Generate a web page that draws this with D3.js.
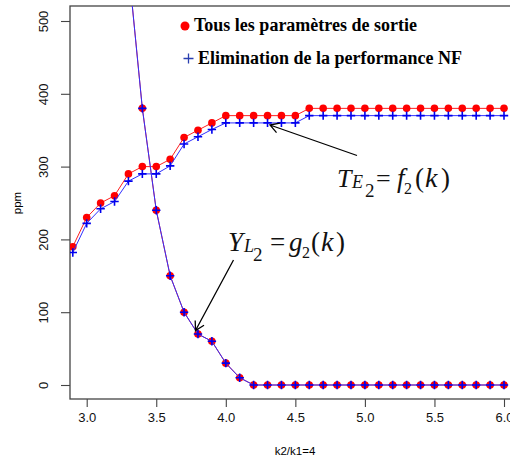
<!DOCTYPE html>
<html><head><meta charset="utf-8">
<script src="https://cdn.jsdelivr.net/npm/d3@7"></script>
<style>body{margin:0;background:#fff}svg{display:block}</style>
</head><body>
<script>
const kValues = [2.9,3.0,3.1,3.2,3.3,3.4,3.5,3.6,3.7,3.8,3.9,4.0,4.1,4.2,4.3,4.4,4.5,4.6,4.7,4.8,4.9,5.0,5.1,5.2,5.3,5.4,5.5,5.6,5.7,5.8,5.9,6.0];
const te2Tous = [190,230,250,260,290,300,300,310,340,350,360,370,370,370,370,370,370,380,380,380,380,380,380,380,380,380,380,380,380,380,380,380];
const te2Elim = [182,222,242,252,280,290,290,301,331,341,351,360,360,360,360,360,360,370,370,370,370,370,370,370,370,370,370,370,370,370,370,370];
const yl2Tous = [null,null,null,null,575,380,240,150,100,70,60,30,10,0,0,0,0,0,0,0,0,0,0,0,0,0,0,0,0,0,0,0];
const yl2Elim = [null,null,null,null,575,380,240,150,100,70,60,30,10,0,0,0,0,0,0,0,0,0,0,0,0,0,0,0,0,0,0,0];
const xTicks = [3.0,3.5,4.0,4.5,5.0,5.5,6.0];
const yTicks = [0,100,200,300,400,500];
const legendLabels = ["Tous les paramètres de sortie","Elimination de la performance NF"];

const W=510,H=463;
const box={l:70,t:6,b:399,r:516};
const x=d3.scaleLinear().domain([3,6]).range([86.7,504]);
const y=d3.scaleLinear().domain([0,500]).range([385,21]);
const svg=d3.select("body").append("svg").attr("width",W).attr("height",H);
svg.append("defs").append("clipPath").attr("id","clip").append("rect")
  .attr("x",box.l).attr("y",box.t).attr("width",box.r-box.l).attr("height",box.b-box.t);

const axisCol="#444";
svg.append("rect").attr("x",box.l).attr("y",box.t).attr("width",box.r-box.l).attr("height",box.b-box.t)
  .attr("fill","none").attr("stroke",axisCol).attr("stroke-width",1.3);

const xa=svg.append("g").attr("transform",`translate(0,${box.b})`)
  .call(d3.axisBottom(x).tickValues(xTicks).tickFormat(d3.format(".1f")).tickSize(8).tickPadding(6));
const ya=svg.append("g").attr("transform",`translate(${box.l},0)`)
  .call(d3.axisLeft(y).tickValues(yTicks).tickFormat(d3.format("d")).tickSize(9).tickPadding(4));
[xa,ya].forEach(g=>{g.select(".domain").remove();
  g.selectAll("line").attr("stroke",axisCol).attr("stroke-width",1.1);
  g.selectAll("text").attr("font-family","Liberation Sans, Arial, sans-serif").attr("font-size",13).attr("fill","#111");});
ya.selectAll(".tick text").attr("x",null).attr("dy",null).attr("text-anchor","middle")
   .attr("transform","translate(-22,0) rotate(-90)");

svg.append("text").attr("transform","translate(21,203) rotate(-90)").attr("text-anchor","middle")
  .attr("font-family","Liberation Sans, Arial, sans-serif").attr("font-size",11.5).text("ppm");
svg.append("text").attr("x",295).attr("y",455).attr("text-anchor","middle")
  .attr("font-family","Liberation Sans, Arial, sans-serif").attr("font-size",11.5).text("k2/k1=4");

const plot=svg.append("g").attr("clip-path","url(#clip)");
const line=d3.line().defined(d=>d[1]!=null).x(d=>x(d[0])).y(d=>y(d[1]));
function series(vals,color,kind){
  const pts=kValues.map((k,i)=>[k,vals[i]]);
  plot.append("path").datum(pts).attr("d",line).attr("fill","none").attr("stroke",color).attr("stroke-width",1);
  const p=pts.filter(d=>d[1]!=null);
  if(kind==="dot"){
    plot.selectAll(null).data(p).enter().append("circle").attr("cx",d=>x(d[0])).attr("cy",d=>y(d[1])).attr("r",3.8).attr("fill","#ff0000");
  } else {
    plot.selectAll(null).data(p).enter().append("path")
      .attr("d",d=>{const cx=x(d[0]),cy=y(d[1]);return `M${cx-4.2},${cy}H${cx+4.2}M${cx},${cy-4.2}V${cy+4.2}`;})
      .attr("stroke","#0000ee").attr("stroke-width",1.6);
  }
}
series(te2Tous,"#ff2020","dot");
series(yl2Tous,"#ff2020","dot");
series(te2Elim,"#3030ff","plus");
series(yl2Elim,"#3030ff","plus");

svg.append("circle").attr("cx",185).attr("cy",26).attr("r",4.5).attr("fill","#ff0000");
svg.append("path").attr("d","M183.5,58.5H193.5M188.5,53.5V63.5").attr("stroke","#2a3fb0").attr("stroke-width",1.3);
const lf="Liberation Serif, Times New Roman, serif";
svg.append("text").attr("x",194).attr("y",31).attr("font-family",lf).attr("font-weight","bold").attr("font-size",18).text(legendLabels[0]);
svg.append("text").attr("x",198).attr("y",63.5).attr("font-family",lf).attr("font-weight","bold").attr("font-size",18).text(legendLabels[1]);

function arrow(x0,y0,x1,y1){
  const a=Math.atan2(y1-y0,x1-x0), L=10, s=Math.PI/6;
  const p=`M${x0},${y0}L${x1},${y1}M${x1-L*Math.cos(a-s)},${y1-L*Math.sin(a-s)}L${x1},${y1}L${x1-L*Math.cos(a+s)},${y1-L*Math.sin(a+s)}`;
  svg.append("path").attr("d",p).attr("fill","none").attr("stroke","#000").attr("stroke-width",1.3);
}
arrow(357,155.5,270,125);
arrow(233.5,260,195.5,330.5);

function mathLabel(x0,y0,parts){
  const t=svg.append("text").attr("font-family",lf).attr("fill","#111");
  parts.forEach(p=>{const s=t.append("tspan").attr("x",x0+p.x).attr("y",y0+(p.y||0)).attr("font-size",p.s).text(p.t);
    if(p.i) s.attr("font-style","italic");});
}
mathLabel(337,187,[
  {t:"T",i:1,x:0,s:26},{t:"E",i:1,x:15,y:0.5,s:18},{t:"2",x:28,y:10,s:19},
  {t:"=",x:39,s:26},{t:"f",i:1,x:60,s:27},{t:"2",x:67,y:7,s:16},
  {t:"(",x:78,s:27},{t:"k",i:1,x:88,s:28},{t:")",x:104,s:27}]);
mathLabel(228,251,[
  {t:"Y",i:1,x:0,s:27},{t:"L",i:1,x:16,y:0.5,s:18},{t:"2",x:25,y:10,s:19},
  {t:"=",x:42,s:27},{t:"g",i:1,x:61,s:27},{t:"2",x:74,y:7,s:16},
  {t:"(",x:83,s:27},{t:"k",i:1,x:93,s:28},{t:")",x:108,s:27}]);
</script>
</body></html>
